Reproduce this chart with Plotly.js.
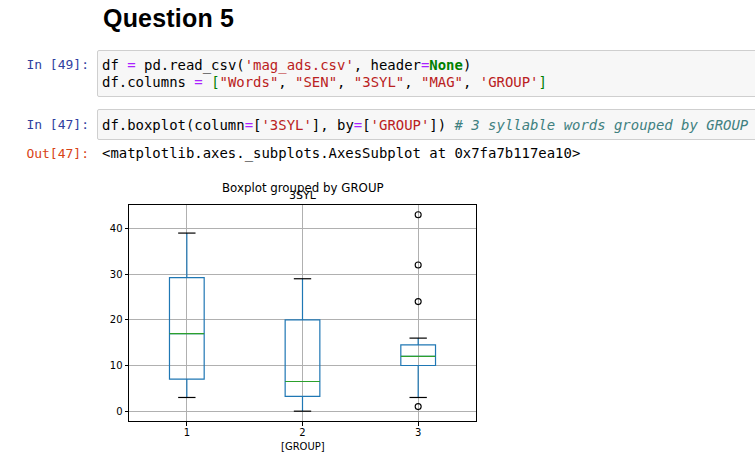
<!DOCTYPE html>
<html>
<head>
<meta charset="utf-8">
<script src="https://cdn.plot.ly/plotly-3.0.1.min.js"></script>
<style>
  html, body { margin: 0; padding: 0; background: #fff; }
  body { width: 755px; height: 467px; overflow: hidden; position: relative; }
  .abs { position: absolute; white-space: pre; }
  .h { left: 103px; top: 3px; font-family: "Liberation Sans", Arial, sans-serif; font-weight: bold; font-size: 25px; line-height: 30px; color: #000; letter-spacing: 0.2px; }
  .mono { font-family: "DejaVu Sans Mono", monospace; font-size: 13.95px; line-height: 17px; color: #000; }
  .prompt { left: 0; width: 89px; text-align: right; font-family: "DejaVu Sans Mono", monospace; font-size: 13px; line-height: 17px; }
  .in { color: #303F9F; }
  .out { color: #D84315; }
  .box { left: 97px; width: 700px; background: #f7f7f7; border: 1px solid #cfcfcf; border-radius: 2px; box-sizing: border-box; }
  .op { color: #AA22FF; }
  .kw { color: #008000; font-weight: bold; }
  .st { color: #BA2121; }
  .br { color: #008000; }
  .cm { color: #408080; font-style: italic; }
  #plot { position: absolute; left: 0; top: 170px; width: 755px; height: 297px; }
</style>
</head>
<body>
<div class="abs h">Question 5</div>

<div class="abs box" style="top:50px;height:47px;"></div>
<div class="abs prompt in" style="top:56px;">In [49]:</div>
<div class="abs mono" style="left:102px;top:56.5px;">df <span class="op">=</span> pd.read_csv(<span class="st">'mag_ads.csv'</span>, header<span class="op">=</span><span class="kw">None</span>)</div>
<div class="abs mono" style="left:102px;top:73.5px;">df.columns <span class="op">=</span> <span class="br">[</span><span class="st">"Words"</span>, <span class="st">"SEN"</span>, <span class="st">"3SYL"</span>, <span class="st">"MAG"</span>, <span class="st">'GROUP'</span><span class="br">]</span></div>

<div class="abs box" style="top:109px;height:31px;"></div>
<div class="abs prompt in" style="top:116px;">In [47]:</div>
<div class="abs mono" style="left:102px;top:116.5px;">df.boxplot(column<span class="op">=</span>[<span class="st">'3SYL'</span>], by<span class="op">=</span>[<span class="st">'GROUP'</span>]) <span class="cm"># 3 syllable words grouped by GROUP</span></div>

<div class="abs prompt out" style="top:144.5px;">Out[47]:</div>
<div class="abs mono" style="left:102px;top:144.5px;">&lt;matplotlib.axes._subplots.AxesSubplot at 0x7fa7b117ea10&gt;</div>

<div id="plot"></div>

<script>
// ---- data ----
const groups = [1, 2, 3];
const lowerWhisker = [3, 0, 3];
const q1Values = [7, 3.25, 10];
const medianValues = [17, 6.5, 12];
const q3Values = [29.25, 20, 14.5];
const upperWhisker = [39, 29, 16];
const outlierGroups = [3, 3, 3, 3];
const outlierValues = [43, 32, 24, 1];
const tickLabels = ["1", "2", "3"];

// ---- derived segment helpers ----
const BOX_W = 0.3;
const CAP_W = 0.15;
function segments(xs, ys, halfWidth) {
  const sx = [], sy = [];
  xs.forEach((x, i) => {
    sx.push(x - halfWidth, x + halfWidth, null);
    sy.push(ys[i], ys[i], null);
  });
  return { x: sx, y: sy };
}
const caps = (() => {
  const a = segments(groups, lowerWhisker, CAP_W / 2);
  const b = segments(groups, upperWhisker, CAP_W / 2);
  return { x: a.x.concat(b.x), y: a.y.concat(b.y) };
})();
const med = segments(groups, medianValues, BOX_W / 2);

const traces = [
  {
    type: 'box',
    x: groups,
    q1: q1Values,
    median: medianValues,
    q3: q3Values,
    lowerfence: lowerWhisker,
    upperfence: upperWhisker,
    width: BOX_W,
    whiskerwidth: 0,
    boxpoints: false,
    line: { color: '#1f77b4', width: 1.2 },
    fillcolor: 'rgba(0,0,0,0)',
    showlegend: false,
    hoverinfo: 'skip'
  },
  {
    type: 'scatter', mode: 'lines',
    x: med.x, y: med.y,
    line: { color: '#2ca02c', width: 1.2 },
    showlegend: false, hoverinfo: 'skip'
  },
  {
    type: 'scatter', mode: 'lines',
    x: caps.x, y: caps.y,
    line: { color: '#000000', width: 1.2 },
    showlegend: false, hoverinfo: 'skip'
  },
  {
    type: 'scatter', mode: 'markers',
    x: outlierGroups, y: outlierValues,
    marker: { symbol: 'circle-open', size: 6, color: '#000000', line: { width: 1.1, color: '#000000' } },
    showlegend: false, hoverinfo: 'skip'
  }
];

const fontFam = 'DejaVu Sans, sans-serif';
const layout = {
  width: 755, height: 297,
  margin: { l: 129, r: 279, t: 35, b: 46, pad: 0 },
  paper_bgcolor: 'rgba(0,0,0,0)',
  plot_bgcolor: '#ffffff',
  font: { family: fontFam, size: 10, color: '#000' },
  xaxis: {
    range: [0.5, 3.5],
    tickvals: groups, ticktext: tickLabels,
    ticks: 'outside', ticklen: 3.5, tickwidth: 1, tickcolor: '#000',
    ticklabelstandoff: -2,
    showgrid: true, gridcolor: '#b0b0b0', gridwidth: 1,
    zeroline: false,
    showline: true, mirror: true, linecolor: '#000', linewidth: 1,
    tickfont: { family: fontFam, size: 10, color: '#000' }
  },
  yaxis: {
    range: [-2.15, 45.15],
    tickvals: [0, 10, 20, 30, 40],
    ticks: 'outside', ticklen: 3.5, tickwidth: 1, tickcolor: '#000',
    showgrid: true, gridcolor: '#b0b0b0', gridwidth: 1,
    zeroline: false,
    showline: true, mirror: true, linecolor: '#000', linewidth: 1,
    tickfont: { family: fontFam, size: 10, color: '#000' }
  },
  annotations: [
    { text: 'Boxplot grouped by GROUP', xref: 'paper', yref: 'paper', x: 0.5, y: 1,
      xanchor: 'center', yanchor: 'middle', yshift: 17.5, showarrow: false,
      font: { family: fontFam, size: 11.8, color: '#000' } },
    { text: '3SYL', xref: 'paper', yref: 'paper', x: 0.5, y: 1,
      xanchor: 'center', yanchor: 'middle', yshift: 9.5, showarrow: false,
      font: { family: fontFam, size: 11, color: '#000' } },
    { text: '[GROUP]', xref: 'paper', yref: 'paper', x: 0.5, y: 0,
      xanchor: 'center', yanchor: 'middle', yshift: -25, showarrow: false,
      font: { family: fontFam, size: 10, color: '#000' } }
  ]
};

Plotly.newPlot('plot', traces, layout, { displayModeBar: false, staticPlot: true });
</script>
</body>
</html>
